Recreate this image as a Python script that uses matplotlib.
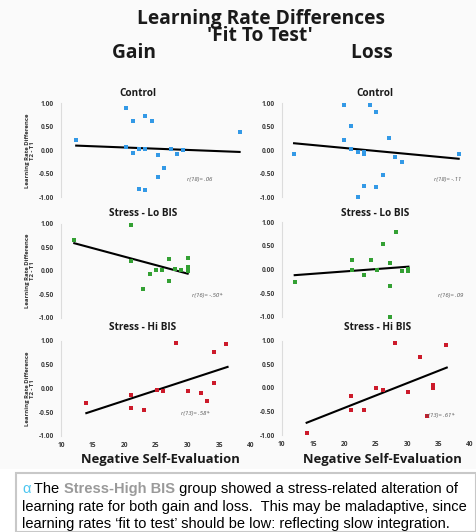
import matplotlib
matplotlib.use("Agg")
import matplotlib.pyplot as plt
from matplotlib.patches import Rectangle

W, H = 476, 532

# ---------------- data ----------------
gain_control_x = [12.4, 20.3, 21.3, 23.3, 24.3, 20.3, 21.3, 22.3, 23.3, 25.3, 27.3, 28.3, 29.2, 26.3, 25.3, 22.3, 23.3, 38.2]
gain_control_y = [0.22, 0.91, 0.62, 0.72, 0.62, 0.06, -0.06, 0.03, 0.03, -0.11, 0.03, -0.07, 0.00, -0.38, -0.57, -0.82, -0.85, 0.38]
gain_control_fit_x = [12.4, 38.2]
gain_control_fit_y = [0.10, -0.035]

loss_control_x = [12.0, 20.0, 24.1, 25.1, 21.1, 20.0, 21.1, 22.1, 23.1, 23.1, 27.1, 28.1, 29.1, 26.1, 23.1, 25.1, 22.1, 38.2]
loss_control_y = [-0.08, 0.97, 0.97, 0.82, 0.52, 0.22, 0.03, -0.03, -0.03, -0.07, 0.26, -0.15, -0.25, -0.52, -0.75, -0.79, -1.00, -0.08]
loss_control_fit_x = [12.0, 38.2]
loss_control_fit_y = [0.15, -0.18]

gain_lobis_x = [12.1, 21.1, 21.1, 24.0, 25.0, 26.0, 27.0, 27.0, 28.0, 29.0, 30.0, 30.0, 30.0, 23.0]
gain_lobis_y = [0.65, 0.98, 0.21, -0.06, 0.01, 0.01, 0.25, -0.21, 0.04, 0.01, 0.28, 0.08, 0.00, -0.39]
gain_lobis_fit_x = [12.1, 30.0]
gain_lobis_fit_y = [0.59, -0.06]

loss_lobis_x = [12.1, 21.2, 21.2, 23.2, 24.2, 25.2, 26.2, 27.2, 27.2, 27.2, 28.2, 29.2, 30.2, 30.2]
loss_lobis_y = [-0.26, 0.21, 0.00, -0.11, 0.21, 0.00, 0.53, 0.13, -0.35, -1.00, 0.79, -0.04, -0.04, 0.02]
loss_lobis_fit_x = [12.1, 30.2]
loss_lobis_fit_y = [-0.12, 0.06]

gain_hibis_x = [14.0, 21.1, 21.1, 23.1, 25.1, 26.1, 28.1, 30.1, 32.1, 33.1, 34.1, 34.1, 36.1]
gain_hibis_y = [-0.31, -0.15, -0.42, -0.46, -0.03, -0.06, 0.96, -0.06, -0.09, -0.26, 0.77, 0.12, 0.94]
gain_hibis_fit_x = [14.0, 36.3]
gain_hibis_fit_y = [-0.52, 0.45]

loss_hibis_x = [14.0, 21.0, 21.0, 23.1, 25.1, 26.1, 28.1, 30.1, 32.1, 33.1, 34.1, 34.1, 36.2]
loss_hibis_y = [-0.95, -0.18, -0.48, -0.46, 0.00, -0.04, 0.96, -0.09, 0.66, -0.59, 0.06, -0.01, 0.91]
loss_hibis_fit_x = [14.0, 36.3]
loss_hibis_fit_y = [-0.74, 0.43]

stat_labels = ["r(18)= .06", "r(18)= -.11", "r(16)= -.50*", "r(16)= .09", "r(13)= .58*", "r(13)= .61*"]
panel_titles = ["Control", "Stress - Lo BIS", "Stress - Hi BIS"]
y_ticks = [1.0, 0.5, 0.0, -0.5, -1.0]
y_tick_labels = ["1.00", "0.50", "0.00", "-0.50", "-1.00"]
x_ticks = [10, 15, 20, 25, 30, 35, 40]

BLUE = "#3399e6"
GREEN = "#33a033"
RED = "#cc1a2a"

fig = plt.figure(figsize=(W / 100, H / 100), dpi=100)
fig.patch.set_facecolor("#fafafa")
renderer = fig.canvas.get_renderer()

FAM = ["Open Sans", "DejaVu Sans"]


def add_ax(x0, x1, ytop, ybot):
    return fig.add_axes([x0 / W, 1 - ybot / H, (x1 - x0) / W, (ybot - ytop) / H])


panels = [
    (gain_control_x, gain_control_y, gain_control_fit_x, gain_control_fit_y, BLUE, 61, 251, 103.3, 197.3, stat_labels[0], (200, 179), False),
    (loss_control_x, loss_control_y, loss_control_fit_x, loss_control_fit_y, BLUE, 281.5, 470, 103.3, 197.3, stat_labels[1], (448, 179), False),
    (gain_lobis_x, gain_lobis_y, gain_lobis_fit_x, gain_lobis_fit_y, GREEN, 61, 251, 224, 317.7, stat_labels[2], (207, 295), False),
    (loss_lobis_x, loss_lobis_y, loss_lobis_fit_x, loss_lobis_fit_y, GREEN, 281.5, 470, 222.3, 316.7, stat_labels[3], (451, 295), False),
    (gain_hibis_x, gain_hibis_y, gain_hibis_fit_x, gain_hibis_fit_y, RED, 61, 251, 340.7, 436, stat_labels[4], (195, 413), True),
    (loss_hibis_x, loss_hibis_y, loss_hibis_fit_x, loss_hibis_fit_y, RED, 281.5, 470, 340.7, 435, stat_labels[5], (440, 415), True),
]

for i, (xs, ys, fx, fy, col, x0, x1, yt, yb, stat, spos, showx) in enumerate(panels):
    ax = add_ax(x0, x1, yt, yb)
    ax.set_facecolor("none")
    ax.set_xlim(10, 40)
    ax.set_ylim(-1, 1)
    for s in ["top", "right", "bottom"]:
        ax.spines[s].set_visible(False)
    ax.spines["left"].set_color("#dcdcdc")
    ax.spines["left"].set_linewidth(0.8)
    ax.set_yticks(y_ticks)
    ax.set_yticklabels(y_tick_labels, fontsize=4.8, fontweight="bold", color="#3a3a3a", family=FAM)
    ax.tick_params(axis="y", length=0, pad=5)
    if showx:
        ax.set_xticks(x_ticks)
        ax.set_xticklabels([str(t) for t in x_ticks], fontsize=4.8, fontweight="bold", color="#3a3a3a", family=FAM)
        ax.tick_params(axis="x", length=0, pad=4)
    else:
        ax.set_xticks([])
    ax.plot(fx, fy, color="black", lw=1.5, zorder=2, clip_on=False)
    ax.scatter(xs, ys, marker="s", s=9, color=col, linewidths=0, zorder=3, clip_on=False)
    fig.text(spos[0] / W, 1 - spos[1] / H, stat, fontsize=4.3, color="#555555",
             ha="center", va="center", style="italic", family=FAM)
    if i % 2 == 0:
        fig.text(30 / W, 1 - ((yt + yb) / 2) / H, "Learning Rate Difference\nT2 - T1",
                 rotation=90, fontsize=4.3, fontweight="bold", color="#333333",
                 ha="center", va="center", family=FAM, linespacing=1.1)

# panel titles
title_pos = [((138, 93), (375, 93)), ((143, 214), (375, 213)), ((143, 328), (378, 328))]
for t, (pl, pr) in zip(panel_titles, title_pos):
    for p in (pl, pr):
        fig.text(p[0] / W, 1 - p[1] / H, t, fontsize=7.2, fontweight="bold", color="#1a1a1a",
                 ha="center", va="center", family=FAM)

# ---- heading block: title, subtitle and column headers in one text ----
HFS = 13.8


def wid(s):
    t = fig.text(0, 0, s, fontsize=HFS, fontweight="bold", family=FAM)
    w = t.get_window_extent(renderer=renderer).width
    t.remove()
    return w


sp = (wid("L" + " " * 20 + "L") - wid("LL")) / 20.0
block_left = 112
title1 = "Learning Rate Differences"
title2 = "'Fit To Test'"
n1 = max(0, round((137 - block_left) / sp))
n2 = max(0, round((205 - block_left) / sp))
n3 = max(1, round((350 - (block_left + wid("Gain"))) / sp))
heading = (" " * n1 + title1 + "\n" + " " * n2 + title2 + "\n" + "Gain" + " " * n3 + "Loss")
fig.text(block_left / W, 1 - 36 / H, heading, fontsize=HFS, fontweight="bold", color="#1a1a1a",
         ha="left", va="center", multialignment="left", family=FAM, linespacing=0.83)

# x axis titles
fig.text(160 / W, 1 - 459 / H, "Negative Self-Evaluation", fontsize=9.4, fontweight="bold",
         color="#1a1a1a", ha="center", va="center", family=FAM)
fig.text(382 / W, 1 - 459 / H, "Negative Self-Evaluation", fontsize=9.4, fontweight="bold",
         color="#1a1a1a", ha="center", va="center", family=FAM)

# bottom white strip + caption box
fig.patches.append(Rectangle((0, 0), 1, (H - 469) / H, transform=fig.transFigure,
                             facecolor="white", edgecolor="none", zorder=0))
fig.patches.append(Rectangle((16 / W, 0), (W - 16) / W, (H - 473) / H, transform=fig.transFigure,
                             facecolor="white", edgecolor="#c8c8c8", lw=1.5, zorder=1))

CAP = ["Liberation Sans", "DejaVu Sans"]
cfs = 10.5


def put_run(x_px, y_px, pieces):
    x = x_px
    for txt, col, wt in pieces:
        t = fig.text(x / W, 1 - y_px / H, txt, fontsize=cfs, color=col, fontweight=wt,
                     ha="left", va="baseline", family=CAP)
        bb = t.get_window_extent(renderer=renderer)
        x += bb.width
    return x


put_run(22, 493, [("α", "#4cc6f0", "normal"), (" The ", "black", "normal"),
                  ("Stress-High BIS", "#9a9a9a", "bold"),
                  (" group showed a stress-related alteration of", "black", "normal")])
put_run(22, 511, [("learning rate for both gain and loss.  This may be maladaptive, since", "black", "normal")])
put_run(22, 528, [("learning rates \u2018fit to test\u2019 should be low: reflecting slow integration.", "black", "normal")])

fig.savefig("out.png", dpi=100)
